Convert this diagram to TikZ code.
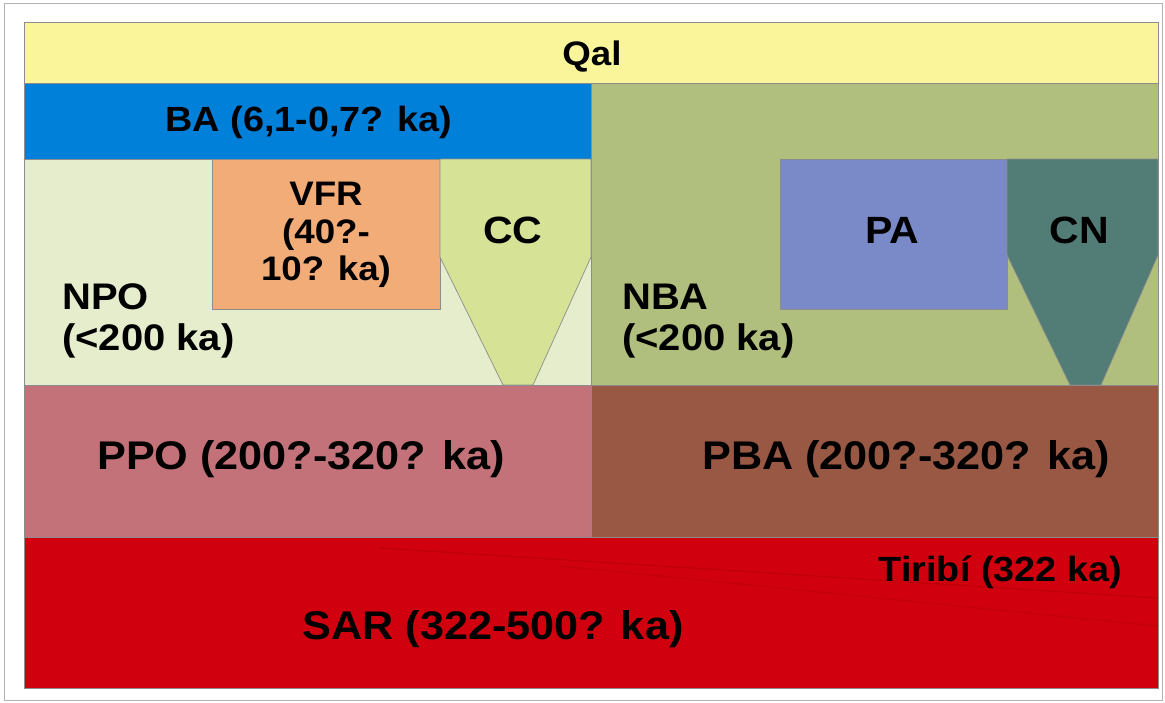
\documentclass[tikz,border=0pt]{standalone}
\usepackage{fontspec}
\setmainfont{Liberation Sans}[FakeStretch=1.08]
\definecolor{qalC}{RGB}{250,245,155}
\definecolor{baC}{RGB}{0,128,216}
\definecolor{nbaC}{RGB}{176,190,126}
\definecolor{npoC}{RGB}{230,237,204}
\definecolor{vfrC}{RGB}{242,172,120}
\definecolor{ccC}{RGB}{214,227,150}
\definecolor{paC}{RGB}{122,138,200}
\definecolor{cnC}{RGB}{82,124,118}
\definecolor{ppoC}{RGB}{196,114,122}
\definecolor{pbaC}{RGB}{152,88,68}
\definecolor{sarC}{RGB}{208,0,14}
\tikzset{
  region/.style={draw=black!45, line width=0.7pt},
  lbl/.style={font=\bfseries, inner sep=0pt, text=black},
}
\newcommand{\fsz}[2]{\fontsize{#1}{#2}\selectfont}
\begin{document}
\begin{tikzpicture}[x=1pt,y=-1pt]
\useasboundingbox (0,0) rectangle (1165,702);
\fill[white] (0,0) rectangle (1165,702);
\draw[black!30, line width=1.2pt] (4.5,3.5) rectangle (1162.5,700.5);
% layers
\path[region, fill=qalC] (24,22) rectangle (1158,83);
\path[region, fill=baC] (24,83) rectangle (591,159);
\path[region, fill=nbaC] (591,83) rectangle (1158,385);
\path[region, fill=npoC] (24,159) rectangle (591,385);
\path[region, fill=vfrC] (212,159) rectangle (440,309);
\path[region, fill=ccC] (440,159) -- (591,159) -- (591,257) -- (533,385) -- (503,385) -- (440,257) -- cycle;
\path[region, fill=paC] (780,159) rectangle (1007,309);
\path[region, fill=cnC] (1007,159) -- (1158,159) -- (1158,255) -- (1101,385) -- (1070,385) -- (1007,255) -- cycle;
\path[region, fill=ppoC] (24,385) rectangle (591,537);
\path[region, fill=pbaC] (591,385) rectangle (1158,537);
\path[region, fill=sarC] (24,537) rectangle (1158,688);
% faint Tiribí traces
\draw[black, opacity=0.08, line width=1.2pt] (380,548) -- (1158,598);
\draw[black, opacity=0.06, line width=1.2pt] (560,566) -- (1158,626);
% labels
\node[lbl, font=\bfseries\fsz{34}{38}, anchor=base] (qal) at (592,65) {Qal};
\node[lbl, font=\bfseries\fsz{35}{39}, anchor=base] (ba) at (309,131) {BA (6,1-0,7? ka)};
\node[lbl, font=\bfseries\fsz{34}{37.5}, align=center] (vfr) at (326,235) {VFR\\(40?-\\10? ka)};
\node[lbl, font=\bfseries\fsz{38}{42}, anchor=base] (cc) at (513,243) {CC};
\node[lbl, font=\bfseries\fsz{38}{42}, anchor=base] (pa) at (892,243) {PA};
\node[lbl, font=\bfseries\fsz{38}{42}, anchor=base] (cn) at (1079,243) {CN};
\node[lbl, font=\bfseries\fsz{37}{41}, align=left, anchor=west] (npo) at (62,321) {NPO\\(<200 ka)};
\node[lbl, font=\bfseries\fsz{37}{41}, align=left, anchor=west] (nba) at (622,321) {NBA\\(<200 ka)};
\node[lbl, font=\bfseries\fsz{40}{44}, anchor=base] (ppo) at (301,469) {PPO (200?-320? ka)};
\node[lbl, font=\bfseries\fsz{40}{44}, anchor=base] (pba) at (906,469) {PBA (200?-320? ka)};
\node[lbl, font=\bfseries\fsz{35}{39}, anchor=base east] (tiribi) at (1122,581) {Tiribí (322 ka)};
\node[lbl, font=\bfseries\fsz{40}{44}, anchor=base] (sar) at (493,639) {SAR (322-500? ka)};
\end{tikzpicture}
\end{document}
